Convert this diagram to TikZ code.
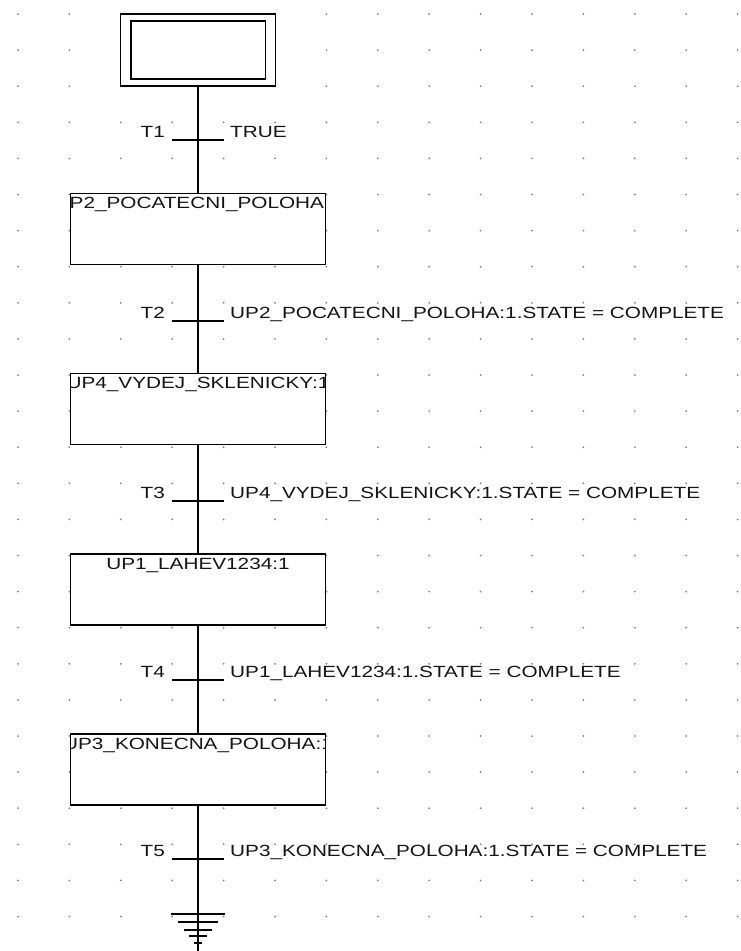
\documentclass[tikz,border=0pt]{standalone}
\usepackage{fontspec}
\newfontfamily\lblfont[FakeStretch=1.28]{Liberation Sans}
\begin{document}
\begin{tikzpicture}[x=1pt,y=-1pt,
  wire/.style={line width=1.8pt,black},
  stepbox/.style={draw=black,line width=1.8pt,fill=white,minimum width=255pt,minimum height=71pt,inner sep=0pt},
  initbox/.style={draw=black,line width=1.8pt,fill=white,minimum width=155pt,minimum height=72pt,inner sep=0pt},
  lbl/.style={font=\lblfont\fontsize{16.2}{18}\selectfont,text=black!92,inner sep=0pt},
  griddot/.style={fill=black!50}
]
\useasboundingbox (0,0) rectangle (740,951);
\fill[white] (0,0) rectangle (740,951);
% dotted grid
\foreach \i in {0,...,14}{
  \foreach \j in {0,...,26}{
    \fill[griddot] ({18+51.4*\i},{14+36.1*\j}) circle (1pt);
  }
}
% nodes
\node[initbox] (s0) at (198,50) {};
\coordinate (t1) at (198,140);
\node[stepbox] (st1) at (198,229) {};
\coordinate (t2) at (198,321);
\node[stepbox] (st2) at (198,409) {};
\coordinate (t3) at (198,501);
\node[stepbox] (st3) at (198,589.5) {};
\coordinate (t4) at (198,680);
\node[stepbox] (st4) at (198,769.5) {};
\coordinate (t5) at (198,859);
\coordinate (g) at (198,914);
\coordinate (gend) at (198,951);
% inner border of initial step
\draw[line width=1.8pt] ([shift={(11,8)}]s0.north west) rectangle ([shift={(-11,-8)}]s0.south east);
% connectors
\draw[wire] (s0.south) -- (t1) -- (st1.north);
\draw[wire] (st1.south) -- (t2) -- (st2.north);
\draw[wire] (st2.south) -- (t3) -- (st3.north);
\draw[wire] (st3.south) -- (t4) -- (st4.north);
\draw[wire] (st4.south) -- (t5) -- (g) -- (gend);
% transition bars and labels
\foreach \t/\name/\cond in {t1/T1/TRUE,
  t2/T2/UP2\_POCATECNI\_POLOHA:1.STATE = COMPLETE,
  t3/T3/UP4\_VYDEJ\_SKLENICKY:1.STATE = COMPLETE,
  t4/T4/UP1\_LAHEV1234:1.STATE = COMPLETE,
  t5/T5/UP3\_KONECNA\_POLOHA:1.STATE = COMPLETE}{
  \draw[wire] ([xshift=-26pt]\t) -- ([xshift=26pt]\t);
  \node[lbl,anchor=base east] (\t n) at ([xshift=-33pt,yshift=3pt]\t) {\name};
  \node[lbl,anchor=base west] (\t c) at ([xshift=32pt,yshift=3pt]\t) {\cond};
}
% step labels, clipped to their boxes
\foreach \s/\txt in {st1/UP2\_POCATECNI\_POLOHA:1, st2/UP4\_VYDEJ\_SKLENICKY:1, st3/UP1\_LAHEV1234:1, st4/UP3\_KONECNA\_POLOHA:1}{
  \begin{scope}
    \clip ([shift={(1,1)}]\s.north west) rectangle ([shift={(-1,-1)}]\s.south east);
    \node[lbl,anchor=base] (\s l) at ([yshift=-16pt]\s.north) {\txt};
  \end{scope}
}
% ground symbol
\draw[wire] ([xshift=-27pt]g) -- ([xshift=27pt]g);
\draw[wire] ([shift={(-20,8)}]g) -- ([shift={(20,8)}]g);
\draw[wire] ([shift={(-14,16)}]g) -- ([shift={(14,16)}]g);
\draw[wire] ([shift={(-9,22)}]g) -- ([shift={(9,22)}]g);
\draw[wire] ([shift={(-4,29)}]g) -- ([shift={(4,29)}]g);
\end{tikzpicture}
\end{document}
